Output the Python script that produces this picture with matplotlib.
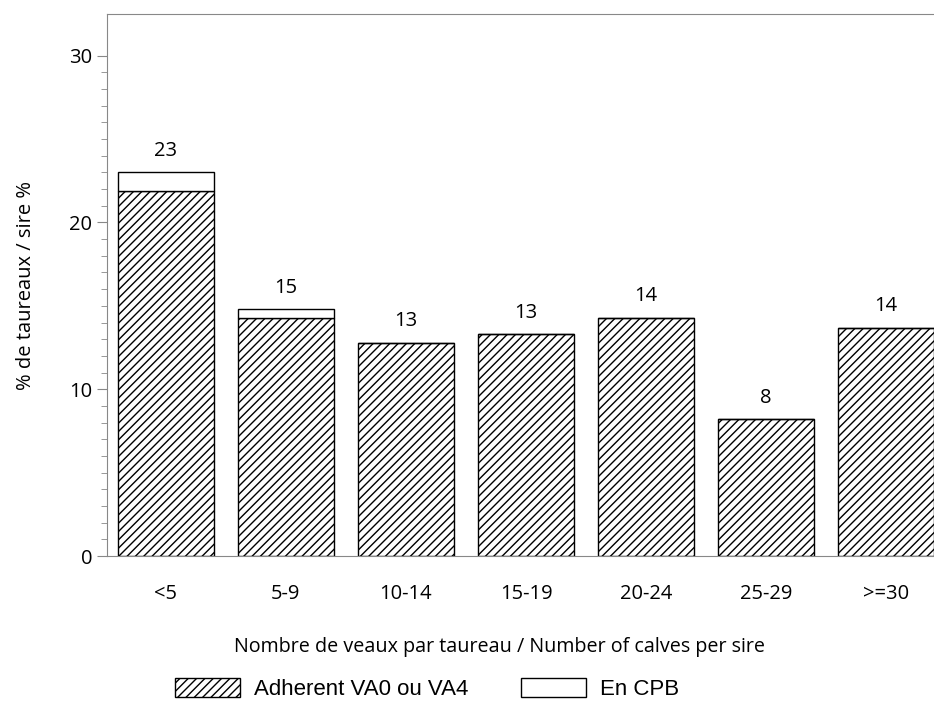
import matplotlib.pyplot as plt
from matplotlib.patches import Patch
from matplotlib.ticker import FixedLocator

categories = ["<5", "5-9", "10-14", "15-19", "20-24", "25-29", ">=30"]
adherent = [21.9, 14.3, 12.8, 13.3, 14.3, 8.2, 13.7]
cpb = [1.1, 0.5, 0.0, 0.0, 0.0, 0.0, 0.0]
labels = ["23", "15", "13", "13", "14", "8", "14"]

plt.rcParams['font.family'] = ['Open Sans', 'DejaVu Sans']
plt.rcParams['hatch.linewidth'] = 1.0

fig = plt.figure(figsize=(9.34, 7.01), dpi=100)
W, H = 934, 701
ax = fig.add_axes([107 / W, (H - 556) / H, (945 - 107) / W, (556 - 14) / H])

x = list(range(len(categories)))
ax.bar(x, adherent, width=0.8, color="white", edgecolor="black", hatch="////", linewidth=1.0)
ax.bar(x, cpb, width=0.8, bottom=adherent, color="white", edgecolor="black", linewidth=1.0)

for xi, a, c, lab in zip(x, adherent, cpb, labels):
    ax.annotate(lab, (xi, a + c), xytext=(0, 8), textcoords="offset points",
                ha="center", va="bottom", fontsize=14.5)

ax.set_xlim(-0.49, 6.49)
ax.set_ylim(0, 32.5)
ax.yaxis.set_major_locator(FixedLocator([0, 10, 20, 30]))
ax.yaxis.set_minor_locator(FixedLocator([v for v in range(1, 30) if v % 10]))
ax.set_xticks(x)
ax.set_xticklabels(categories)
ax.tick_params(axis="x", length=0, pad=20, labelsize=14.5)
ax.tick_params(axis="y", which="major", length=7, color="#888888", labelsize=14.5)
ax.tick_params(axis="y", which="minor", length=4, color="#888888")
for s in ax.spines.values():
    s.set_color("#888888")

ax.set_xlabel("Nombre de veaux par taureau / Number of calves per sire", fontsize=14.2,
              labelpad=24, x=(499 - 107) / 838)
ax.set_ylabel("% de taureaux / sire %", fontsize=14.5, labelpad=24)

handles = [Patch(facecolor="white", edgecolor="black", hatch="////", label="Adherent VA0 ou VA4"),
           Patch(facecolor="white", edgecolor="black", label="En CPB")]
fig.legend(handles=handles, loc="center", bbox_to_anchor=(427 / W, 1 - 689 / H), ncol=2,
           frameon=False, handlelength=2.9, handleheight=0.9, handletextpad=0.63,
           columnspacing=2.4, prop={"family": "Liberation Sans", "size": 16})

plt.savefig("out.png", dpi=100)
